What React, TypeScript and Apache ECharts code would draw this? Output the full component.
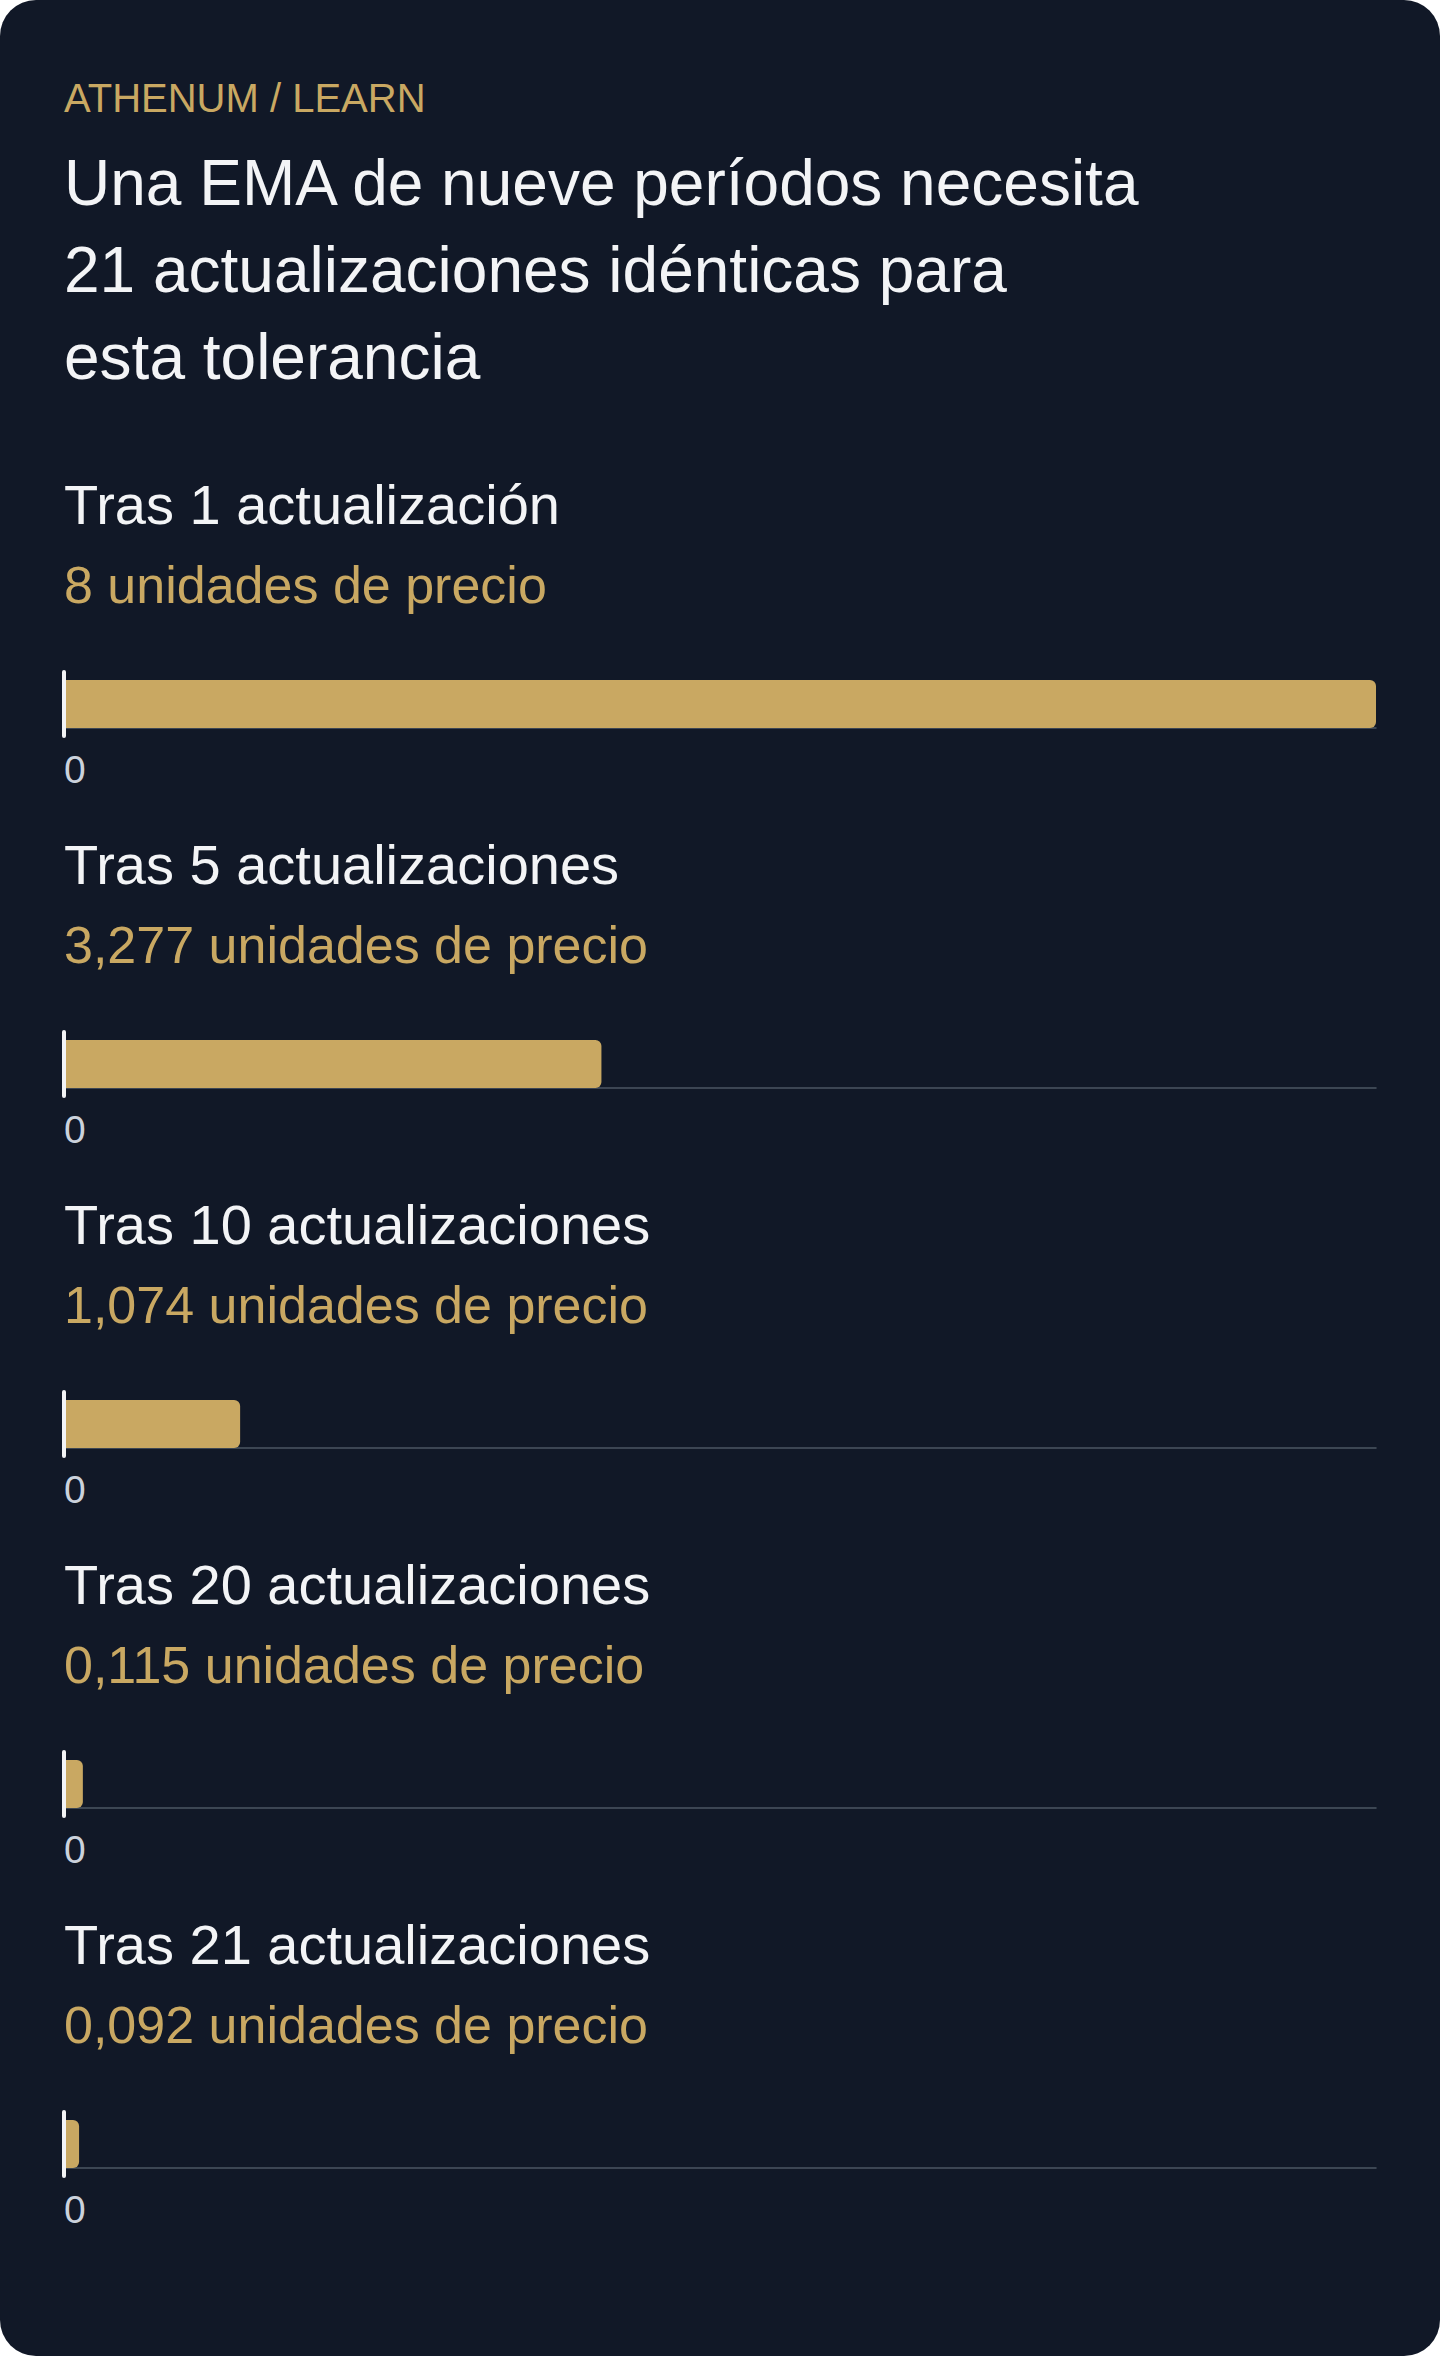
import { useEffect, useRef } from 'react';
import * as echarts from 'echarts';

const KICKER = 'ATHENUM / LEARN';
const HEADING_LINES = [
  'Una EMA de nueve períodos necesita',
  '21 actualizaciones idénticas para',
  'esta tolerancia',
];
const STEP_LABELS = [
  'Tras 1 actualización',
  'Tras 5 actualizaciones',
  'Tras 10 actualizaciones',
  'Tras 20 actualizaciones',
  'Tras 21 actualizaciones',
];
// residual distance after n identical updates
const RESIDUALS = [8, 3.277, 1.074, 0.115, 0.092];
const UNIT = 'unidades de precio';
const AXIS_MAX = 8;
const AXIS_LABELS = [0];

const W = 1440;
const H = 2356;
const PAD = 64;
const STEP = 360;
const FONT = 'Liberation Sans';
const GOLD = '#C9A862';
const WHITE = '#F3F4F6';
const BG = '#111827';

const fmt = (v: number) => (Number.isInteger(v) ? String(v) : v.toFixed(3).replace('.', ','));

export default function App() {
  const ref = useRef<HTMLDivElement>(null);

  useEffect(() => {
    document.body.style.margin = '0';
    const dom = ref.current;
    if (!dom) return;
    const chart = echarts.init(dom, undefined, { renderer: 'svg' });

    const text = (s: string, y: number, size: number, fill: string) => ({
      type: 'text',
      x: PAD,
      y,
      silent: true,
      style: { text: s, fill, fontSize: size, fontFamily: FONT, align: 'left', verticalAlign: 'middle' },
    });

    const graphic = [
      text(KICKER, 98, 40, GOLD),
      ...HEADING_LINES.map((l, i) => text(l, 183 + i * 87, 64, WHITE)),
      ...STEP_LABELS.flatMap((l, i) => [
        text(l, 504 + i * STEP, 56, WHITE),
        text(`${fmt(RESIDUALS[i])} ${UNIT}`, 585 + i * STEP, 52, GOLD),
      ]),
    ];

    chart.setOption({
      animation: false,
      backgroundColor: 'transparent',
      textStyle: { fontFamily: FONT },
      graphic,
      grid: STEP_LABELS.map((_, i) => ({
        left: PAD,
        right: PAD,
        top: 672 + i * STEP,
        height: 64,
      })),
      xAxis: STEP_LABELS.map((_, i) => ({
        type: 'value',
        gridIndex: i,
        min: 0,
        max: AXIS_MAX,
        interval: AXIS_MAX,
        offset: -8,
        axisLine: { show: true, lineStyle: { color: '#4B5563', width: 1.5 } },
        axisTick: { show: false },
        splitLine: { show: false },
        axisLabel: {
          formatter: (v: number) => (AXIS_LABELS.includes(v) ? String(v) : ''),
          align: 'left',
          margin: 22,
          color: '#CBD2DC',
          fontSize: 39,
          fontFamily: FONT,
        },
      })),
      yAxis: STEP_LABELS.map((l, i) => ({
        type: 'category',
        gridIndex: i,
        data: [l],
        z: 5,
        axisLine: { show: true, lineStyle: { color: WHITE, width: 4 } },
        axisTick: { show: false },
        axisLabel: { show: false },
        splitLine: { show: false },
      })),
      series: RESIDUALS.map((v, i) => ({
        type: 'bar',
        xAxisIndex: i,
        yAxisIndex: i,
        data: [v],
        barWidth: 48,
        itemStyle: { color: GOLD, borderRadius: [0, 6, 6, 0] },
        silent: true,
      })),
    } as echarts.EChartsOption);

    return () => {
      chart.dispose();
    };
  }, []);

  return (
    <div style={{ width: W, height: H, background: BG, borderRadius: 36, overflow: 'hidden' }}>
      <div ref={ref} style={{ width: W, height: H }} />
    </div>
  );
}
